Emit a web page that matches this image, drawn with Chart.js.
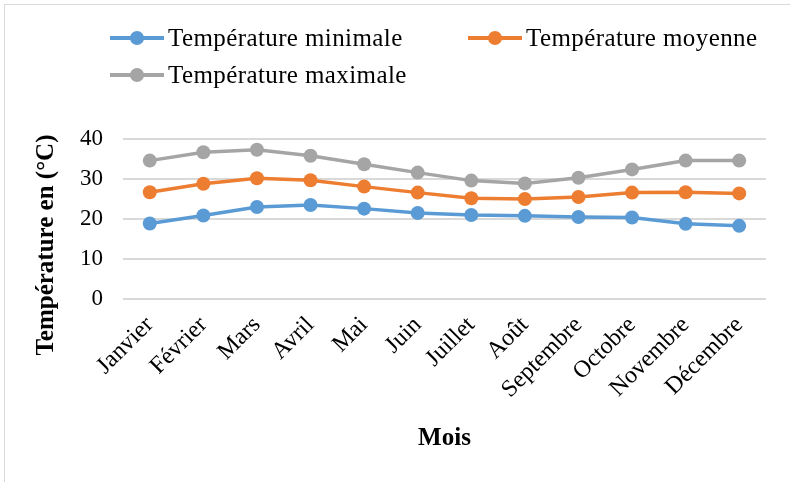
<!DOCTYPE html>
<html lang="fr">
<head>
  <meta charset="UTF-8" />
  <title>Températures mensuelles</title>
  <script src="https://cdn.jsdelivr.net/npm/chart.js"></script>
  <style>
    body {
      margin: 0;
      background: #fff;
      font-family: "Liberation Serif", serif;
    }
    .wrap {
      position: relative;
      width: 790px;
      height: 482px;
      overflow: hidden;
    }
    .frame {
      position: absolute;
      left: 4px;
      top: 4px;
      width: 800px;
      height: 500px;
      border: 1px solid #d9d9d9;
    }
    #legend {
      position: absolute;
      left: 110px;
      top: 22px;
      display: grid;
      grid-template-columns: 358px auto;
      row-gap: 5px;
      font-size: 25px;
      letter-spacing: 0.4px;
      color: #000;
    }
    .item {
      display: flex;
      align-items: center;
      height: 32px;
    }
    .mark {
      position: relative;
      width: 54px;
      height: 14px;
      margin-right: 4px;
    }
    .mark .ln {
      position: absolute;
      left: 0; right: 0; top: 5px;
      height: 4px;
    }
    .mark .dot {
      position: absolute;
      left: 20px; top: 0;
      width: 14px; height: 14px;
      border-radius: 50%;
    }
    canvas {
      position: absolute;
      left: 0;
      top: 0;
    }
  </style>
</head>
<body>
  <div class="wrap">
    <div class="frame"></div>
    <canvas id="tempChart" width="790" height="482"></canvas>
    <div id="legend"></div>
  </div>

  <script>
    const mois = ["Janvier", "Février", "Mars", "Avril", "Mai", "Juin",
                  "Juillet", "Août", "Septembre", "Octobre", "Novembre", "Décembre"];
    const tMin = [18.9, 20.9, 23.0, 23.5, 22.6, 21.5, 21.0, 20.8, 20.5, 20.4, 18.8, 18.3];
    const tMoy = [26.7, 28.8, 30.2, 29.7, 28.1, 26.6, 25.2, 25.0, 25.5, 26.6, 26.7, 26.4];
    const tMax = [34.6, 36.7, 37.3, 35.8, 33.7, 31.6, 29.6, 28.9, 30.3, 32.4, 34.6, 34.6];
    const yTicks = [0, 10, 20, 30, 40];
    const titreY = "Température en (°C)";

    const police = "'Liberation Serif', serif";

    function serie(label, data, color) {
      return {
        label: label,
        data: data,
        borderColor: color,
        backgroundColor: color,
        borderWidth: 3.5,
        pointRadius: 7,
        pointHoverRadius: 7,
        pointBorderWidth: 0,
        tension: 0
      };
    }

    const datasets = [
      serie("Température minimale", tMin, "#5b9bd5"),
      serie("Température moyenne", tMoy, "#ed7d31"),
      serie("Température maximale", tMax, "#a5a5a5")
    ];

    // légende HTML (disposition en grille comme dans Excel)
    const leg = document.getElementById("legend");
    datasets.forEach(ds => {
      const it = document.createElement("div");
      it.className = "item";
      it.innerHTML = `<span class="mark"><span class="ln" style="background:${ds.borderColor}"></span>` +
        `<span class="dot" style="background:${ds.borderColor}"></span></span>${ds.label}`;
      leg.appendChild(it);
    });

    // titre de l'axe Y dessiné à la main : Excel le centre un peu plus bas que la zone de tracé
    const titreAxeY = {
      id: 'titreAxeY',
      afterDraw(chart) {
        const ctx = chart.ctx;
        const a = chart.chartArea;
        ctx.save();
        ctx.translate(chart.scales.y.left - 13, (a.top + a.bottom) / 2 + 26);
        ctx.rotate(-Math.PI / 2);
        ctx.font = "bold 25px " + police;
        ctx.fillStyle = "#000";
        ctx.textAlign = "center";
        ctx.textBaseline = "middle";
        ctx.fillText(titreY, 0, 0);
        ctx.restore();
      }
    };

    new Chart(document.getElementById("tempChart"), {
      type: 'line',
      data: { labels: mois, datasets: datasets },
      plugins: [titreAxeY],
      options: {
        responsive: false,
        animation: false,
        layout: { padding: { top: 139, left: 60, right: 24, bottom: 24 } },
        plugins: {
          legend: { display: false },
          tooltip: { enabled: false }
        },
        scales: {
          x: {
            offset: true,
            grid: { display: false },
            border: { display: false },
            ticks: {
              color: "#000",
              font: { family: police, size: 24 },
              maxRotation: 45,
              minRotation: 45,
              padding: 4
            },
            title: {
              display: true,
              text: "Mois",
              color: "#000",
              font: { family: police, size: 25, weight: 'bold' },
              padding: { top: 16 }
            }
          },
          y: {
            min: 0,
            max: 40,
            afterBuildTicks: axis => { axis.ticks = yTicks.map(v => ({ value: v })); },
            grid: { color: "#d9d9d9", lineWidth: 2, drawTicks: false },
            border: { display: false },
            ticks: {
              color: "#000",
              font: { family: police, size: 23 },
              padding: 20
            }
          }
        }
      }
    });
  </script>
</body>
</html>
